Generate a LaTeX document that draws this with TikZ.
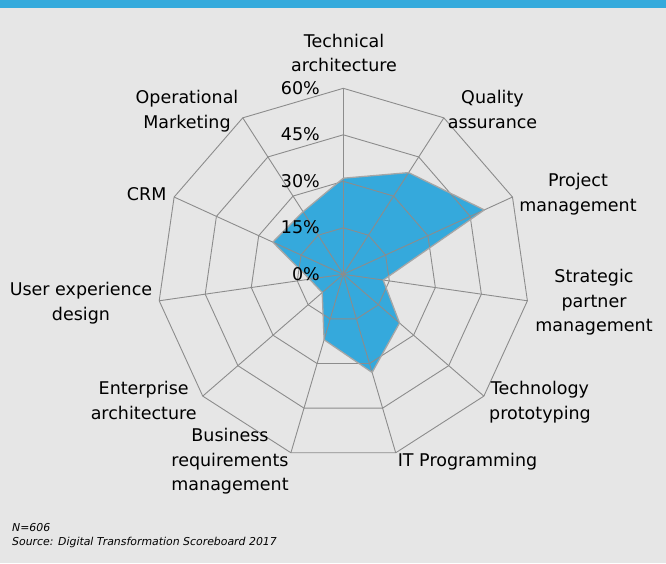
\documentclass[tikz,border=0pt]{standalone}
\usepackage{fontspec}
\setmainfont{DejaVu Sans}
\definecolor{bgc}{HTML}{E6E6E6}
\definecolor{hdr}{HTML}{34AADC}
\definecolor{gridc}{HTML}{8C8C8C}
\definecolor{areac}{HTML}{35A9DC}
\definecolor{edgec}{HTML}{A6A6A6}
\begin{document}
\begin{tikzpicture}[x=1pt,y=-1pt,
  gridline/.style={draw=gridc, line width=0.9pt, line join=miter},
  lbl/.style={font=\fontsize{17.5}{24.5}\selectfont, align=center, inner sep=0pt, anchor=base},
  pct/.style={font=\fontsize{17.5}{24.5}\selectfont, inner sep=0pt, anchor=base east},
  foot/.style={font=\itshape\fontsize{10.9}{13.5}\selectfont, inner sep=0pt, anchor=base west}]
\useasboundingbox (0,0) rectangle (666,563);
\fill[bgc] (0,0) rectangle (666,563);
\fill[hdr] (0,0) rectangle (666,8);
\def\cx{343.3}
\def\cy{274.3}
\coordinate (c) at (\cx,\cy);
% data polygon
\foreach \v [count=\k from 0] in {31,39,50,13,24,33,22,9,11,25,24}
  \coordinate (d\k) at ({\cx+3.1*\v*sin(\k*360/11)},{\cy-3.1*\v*cos(\k*360/11)});
\fill[areac] (d0) -- (d1) -- (d2) -- (d3) -- (d4) -- (d5) -- (d6) -- (d7) -- (d8) -- (d9) -- (d10) -- cycle;
% grid rings
\foreach \r in {46.5,93,139.5,186}
  \draw[gridline] ({\cx},{\cy-\r}) \foreach \k in {1,...,10}{ -- ({\cx+\r*sin(\k*360/11)},{\cy-\r*cos(\k*360/11)}) } -- cycle;
% spokes
\foreach \k in {0,...,10}{
  \coordinate (s\k) at ({\cx+186*sin(\k*360/11)},{\cy-186*cos(\k*360/11)});
  \draw[gridline] (c) -- (s\k);
}
\draw[edgec, line width=1.3pt, line join=round] (d0) -- (d1) -- (d2) -- (d3) -- (d4) -- (d5) -- (d6) -- (d7) -- (d8) -- (d9) -- (d10) -- cycle;
% percent labels
\node[pct] (p60) at (320,94.3) {60\%};
\node[pct] (p45) at (320,140.8) {45\%};
\node[pct] (p30) at (320,187.3) {30\%};
\node[pct] (p15) at (320,233.8) {15\%};
\node[pct] (p0) at (320,280.3) {0\%};
% axis labels (anchor = baseline of last line)
\node[lbl] (ta) at (344,71.7) {Technical\\architecture};
\node[lbl] (qa) at (492.5,128) {Quality\\assurance};
\node[lbl] (pm) at (578,211) {Project\\management};
\node[lbl] (spm) at (594,331.7) {Strategic\\partner\\management};
\node[lbl] (tp) at (540,419.3) {Technology\\prototyping};
\node[lbl] (itp) at (467.5,466.7) {IT Programming};
\node[lbl] (brm) at (230,490.7) {Business\\requirements\\management};
\node[lbl] (ea) at (143.7,419.3) {Enterprise\\architecture};
\node[lbl] (ux) at (81,320) {User experience\\design};
\node[lbl] (crm) at (146.7,200) {CRM};
\node[lbl] (om) at (187,128.3) {Operational\\Marketing};
% footer
\node[foot] (n) at (12,531.7) {N=606};
\node[foot] (src) at (12,545.3) {Source: Digital Transformation Scoreboard 2017};
\end{tikzpicture}
\end{document}
